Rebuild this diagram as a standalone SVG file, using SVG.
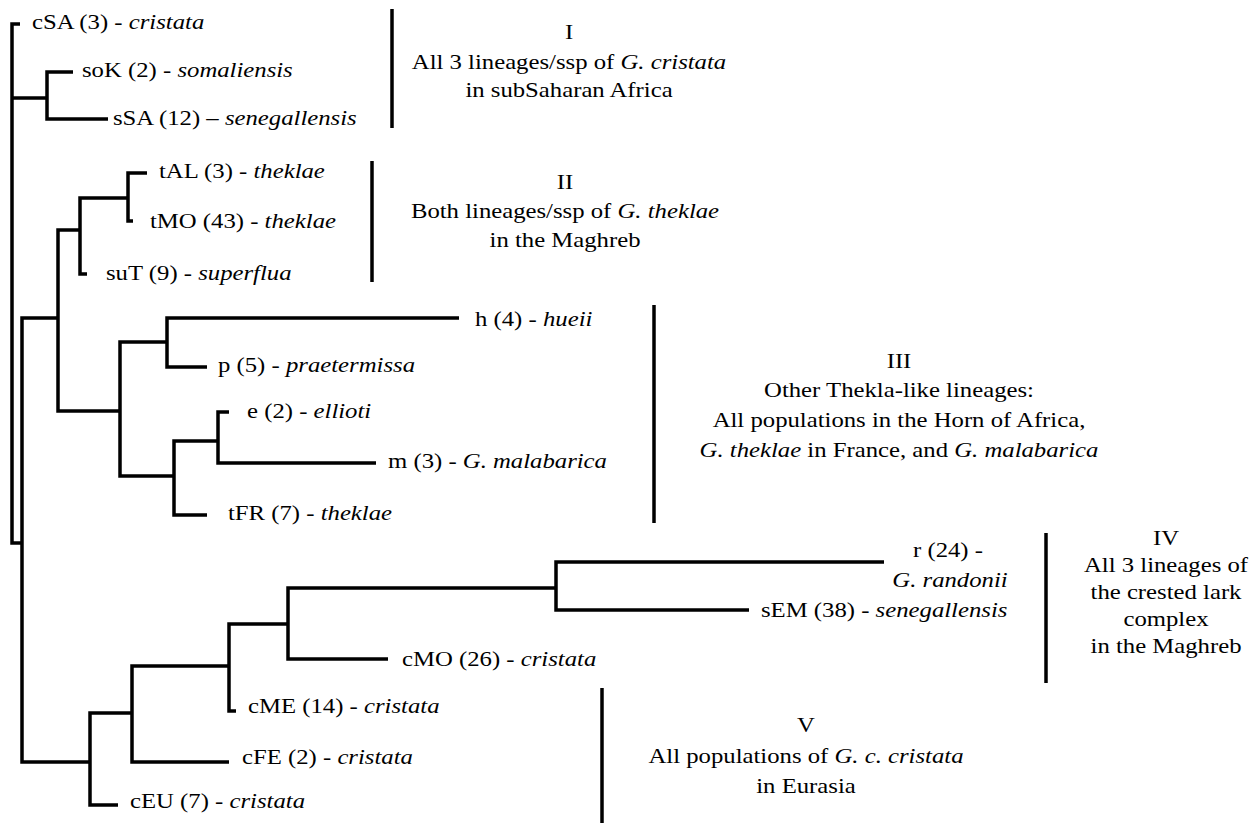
<svg xmlns="http://www.w3.org/2000/svg" width="1255" height="825" viewBox="0 0 1255 825">
<style>
.t{font-family:"Liberation Serif","Times New Roman",serif;font-size:21.5px;fill:#000}
.c{text-anchor:middle}
.i{font-style:italic}
.br{fill:none;stroke:#000;stroke-width:3.5;stroke-linejoin:miter}
.bar{stroke:#000;stroke-width:3.5}
</style>
<rect width="1255" height="825" fill="#fff"/>
<g id="connectors">
<path class="br" d="M20,24 H12 V543 H22"/>
<path class="br" d="M12,98 H47"/>
<path class="br" d="M73,72 H47 V119 H108"/>
<path class="br" d="M58,318 H22 V762 H90"/>
<path class="br" d="M80,230 H58 V411 H120"/>
<path class="br" d="M128,198 H80 V274 H87"/>
<path class="br" d="M147,173 H128 V221 H133"/>
<path class="br" d="M167,342 H120 V476 H174"/>
<path class="br" d="M459,318 H167 V367 H207"/>
<path class="br" d="M218,441 H174 V515 H207"/>
<path class="br" d="M229,412 H218 V463 H376"/>
<path class="br" d="M132,713 H90 V805 H118"/>
<path class="br" d="M229,666 H132 V762 H229"/>
<path class="br" d="M288,624 H229 V711 H236"/>
<path class="br" d="M556,588 H288 V659 H388"/>
<path class="br" d="M884,562 H556 V610 H749"/>
</g>
<g id="tip-cSA"><text class="t" transform="translate(32,29) scale(1.15,1)">cSA (3) - <tspan class="i">cristata</tspan></text></g>
<g id="tip-soK"><text class="t" transform="translate(82,77) scale(1.15,1)">soK (2) - <tspan class="i">somaliensis</tspan></text></g>
<g id="tip-sSA"><text class="t" transform="translate(113,125) scale(1.15,1)">sSA (12) – <tspan class="i">senegallensis</tspan></text></g>
<g id="tip-tAL"><text class="t" transform="translate(159,178) scale(1.15,1)">tAL (3) - <tspan class="i">theklae</tspan></text></g>
<g id="tip-tMO"><text class="t" transform="translate(150,228) scale(1.15,1)">tMO (43) - <tspan class="i">theklae</tspan></text></g>
<g id="tip-suT"><text class="t" transform="translate(106,280) scale(1.15,1)">suT (9) - <tspan class="i">superflua</tspan></text></g>
<g id="tip-h"><text class="t" transform="translate(475,326) scale(1.15,1)">h (4) - <tspan class="i">hueii</tspan></text></g>
<g id="tip-p"><text class="t" transform="translate(218,372) scale(1.15,1)">p (5) - <tspan class="i">praetermissa</tspan></text></g>
<g id="tip-e"><text class="t" transform="translate(247,418) scale(1.15,1)">e (2) - <tspan class="i">ellioti</tspan></text></g>
<g id="tip-m"><text class="t" transform="translate(388,468) scale(1.15,1)">m (3) - <tspan class="i">G. malabarica</tspan></text></g>
<g id="tip-tFR"><text class="t" transform="translate(228,520) scale(1.15,1)">tFR (7) - <tspan class="i">theklae</tspan></text></g>
<g id="tip-r">
<text class="t c" transform="translate(948,557) scale(1.15,1)">r (24) -</text>
<text class="t c i" transform="translate(950,587) scale(1.15,1)">G. randonii</text>
</g>
<g id="tip-sEM"><text class="t" transform="translate(761,617) scale(1.15,1)">sEM (38) - <tspan class="i">senegallensis</tspan></text></g>
<g id="tip-cMO"><text class="t" transform="translate(402,666) scale(1.15,1)">cMO (26) - <tspan class="i">cristata</tspan></text></g>
<g id="tip-cME"><text class="t" transform="translate(248,713) scale(1.15,1)">cME (14) - <tspan class="i">cristata</tspan></text></g>
<g id="tip-cFE"><text class="t" transform="translate(242,764) scale(1.15,1)">cFE (2) - <tspan class="i">cristata</tspan></text></g>
<g id="tip-cEU"><text class="t" transform="translate(130,808) scale(1.15,1)">cEU (7) - <tspan class="i">cristata</tspan></text></g>
<g id="clade-I">
<line class="bar" x1="392" y1="9" x2="392" y2="128"/>
<text class="t c" transform="translate(569,39) scale(1.15,1)">I</text>
<text class="t c" transform="translate(569,69) scale(1.15,1)">All 3 lineages/ssp of <tspan class="i">G. cristata</tspan></text>
<text class="t c" transform="translate(569,97) scale(1.15,1)">in subSaharan Africa</text>
</g>
<g id="clade-II">
<line class="bar" x1="372" y1="161" x2="372" y2="282"/>
<text class="t c" transform="translate(565,189) scale(1.15,1)">II</text>
<text class="t c" transform="translate(565,218) scale(1.15,1)">Both lineages/ssp of <tspan class="i">G. theklae</tspan></text>
<text class="t c" transform="translate(565,247) scale(1.15,1)">in the Maghreb</text>
</g>
<g id="clade-III">
<line class="bar" x1="654" y1="305" x2="654" y2="523"/>
<text class="t c" transform="translate(899,368) scale(1.15,1)">III</text>
<text class="t c" transform="translate(899,397) scale(1.15,1)">Other Thekla-like lineages:</text>
<text class="t c" transform="translate(899,427) scale(1.15,1)">All populations in the Horn of Africa,</text>
<text class="t c" transform="translate(899,457) scale(1.15,1)"><tspan class="i">G. theklae</tspan> in France, and <tspan class="i">G. malabarica</tspan></text>
</g>
<g id="clade-IV">
<line class="bar" x1="1046" y1="533" x2="1046" y2="683"/>
<text class="t c" transform="translate(1166,545) scale(1.15,1)">IV</text>
<text class="t c" transform="translate(1166,572) scale(1.15,1)">All 3 lineages of</text>
<text class="t c" transform="translate(1166,599) scale(1.15,1)">the crested lark</text>
<text class="t c" transform="translate(1166,626) scale(1.15,1)">complex</text>
<text class="t c" transform="translate(1166,653) scale(1.15,1)">in the Maghreb</text>
</g>
<g id="clade-V">
<line class="bar" x1="602" y1="688" x2="602" y2="823"/>
<text class="t c" transform="translate(806,732) scale(1.15,1)">V</text>
<text class="t c" transform="translate(806,763) scale(1.15,1)">All populations of <tspan class="i">G. c. cristata</tspan></text>
<text class="t c" transform="translate(806,793) scale(1.15,1)">in Eurasia</text>
</g>
</svg>
